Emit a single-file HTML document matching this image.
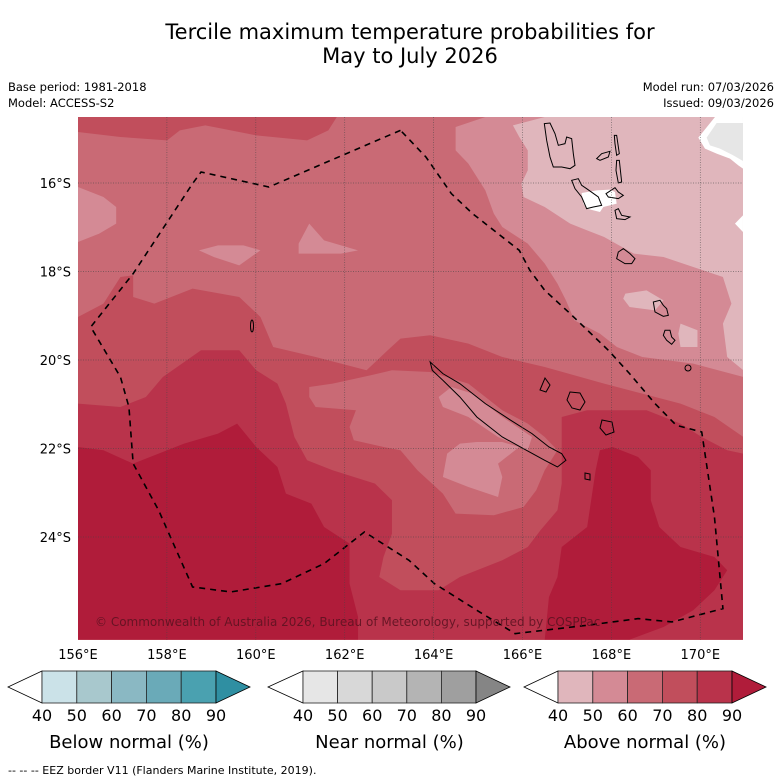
<!DOCTYPE html>
<html><head><meta charset="utf-8"><style>
html,body{margin:0;padding:0;background:#fff;}
svg{display:block;font-family:"DejaVu Sans","Liberation Sans",sans-serif;}
</style></head><body>
<svg id="chart" width="781" height="781" viewBox="0 0 781 781">
<rect x="0" y="0" width="781" height="781" fill="#fff"/>
<text x="410" y="39" font-size="21" text-anchor="middle" fill="#000">Tercile maximum temperature probabilities for</text>
<text x="410" y="63" font-size="21" text-anchor="middle" fill="#000">May to July 2026</text>
<text x="8" y="91" font-size="11.5">Base period: 1981-2018</text>
<text x="8" y="107" font-size="11.5">Model: ACCESS-S2</text>
<text x="774" y="91" font-size="11.5" text-anchor="end">Model run: 07/03/2026</text>
<text x="774" y="107" font-size="11.5" text-anchor="end">Issued: 09/03/2026</text>
<defs><clipPath id="mapclip"><rect x="78" y="117" width="665" height="523"/></clipPath></defs>
<g clip-path="url(#mapclip)">
<rect x="78" y="117" width="665" height="523" fill="#c96a75"/>
<g transform="translate(78,117) scale(0.4243,0.3333)">
<polygon fill="#c14e5c" points="0,0 610,0 590,40 540,70 420,55 300,25 240,40 210,70 100,60 0,45"/>
<polygon fill="#c14e5c" points="0,600 60,560 100,480 130,475 130,540 180,560 270,515 380,540 430,600 460,690 560,720 680,760 730,700 760,665 830,655 920,680 1000,720 1100,750 1240,800 1330,830 1420,860 1500,900 1568,960 1568,1568 0,1568"/>
<polygon fill="#c96a75" points="545,810 600,800 690,775 740,760 830,765 920,800 1000,880 1060,920 1100,960 1130,1000 1100,1060 1080,1120 1050,1170 980,1195 890,1190 860,1130 800,1060 760,1000 720,990 650,970 640,930 655,880 560,870 545,840"/>
<polygon fill="#d48a95" points="850,840 880,810 930,830 1000,900 1070,960 1060,1000 990,960 920,900 860,870"/>
<polygon fill="#d48a95" points="940,975 1000,975 1040,990 990,1040 1000,1080 990,1140 920,1110 860,1080 870,1010 900,980"/>
<polygon fill="#b9334b" points="0,860 100,870 160,840 200,780 290,700 380,700 420,760 470,800 490,860 510,960 540,1030 600,1060 700,1100 740,1150 740,1250 720,1320 710,1380 760,1420 850,1420 900,1380 1000,1330 1060,1290 1090,1240 1130,1180 1140,1100 1140,900 1200,880 1300,880 1340,880 1420,920 1470,960 1530,1000 1568,1010 1568,1568 0,1568"/>
<polygon fill="#b01c3a" points="0,990 60,1000 130,1040 250,980 330,950 375,920 420,990 470,1050 490,1130 550,1160 580,1230 640,1280 640,1400 660,1500 660,1568 0,1568"/>
<polygon fill="#b01c3a" points="1100,1568 1110,1440 1130,1380 1140,1290 1200,1230 1220,1060 1230,1000 1260,990 1320,1020 1350,1060 1350,1150 1370,1230 1420,1290 1500,1320 1530,1360 1500,1420 1450,1480 1380,1530 1300,1568"/>
<polygon fill="#d48a95" points="890,30 960,0 1568,0 1568,780 1450,740 1330,720 1270,690 1230,650 1170,610 1150,550 1130,500 1100,440 1060,380 1000,330 980,290 960,220 920,140 890,100"/>
<polygon fill="#d48a95" points="0,210 60,240 90,270 90,320 50,350 0,375"/>
<polygon fill="#d48a95" points="285,400 330,385 390,385 430,400 380,445 320,420"/>
<polygon fill="#d48a95" points="545,320 580,370 660,400 620,410 520,410 520,380"/>
<polygon fill="#e0b6bc" points="1025,25 1100,0 1568,0 1568,760 1530,720 1520,620 1540,560 1530,520 1520,480 1450,450 1380,420 1310,410 1240,360 1200,340 1160,320 1100,270 1050,240 1045,200 1060,160 1060,100 1040,60"/>
<polygon fill="#e0b6bc" points="1290,530 1340,520 1380,550 1360,580 1300,570 1285,545"/>
<polygon fill="#e0b6bc" points="1420,620 1460,640 1460,690 1420,690 1415,650"/>
<polyline fill="none" stroke="#000" stroke-width="1.6" stroke-dasharray="6,5" vector-effect="non-scaling-stroke" points="760,40 450,210 290,165 270,200 130,470 30,630 100,780 120,870 130,1040 190,1180 270,1410 360,1425 480,1400 580,1340 675,1245 780,1330 840,1400 940,1480 1030,1550 1200,1525 1320,1505 1400,1515 1520,1475 1500,1200 1470,945 1410,925 1360,860 1300,770 1250,700 1160,590 1100,520 1065,460 1040,400 990,350 930,290 880,230 820,120 760,40"/>
<polygon fill="none" stroke="#000" stroke-width="1" vector-effect="non-scaling-stroke" points="830,735 860,770 900,800 960,860 1020,910 1070,950 1110,990 1140,1010 1150,1030 1130,1050 1100,1030 1050,995 1000,960 940,900 900,840 860,790 835,760"/>
</g>
<g transform="translate(500,117) scale(0.3333)" fill="none" stroke="#000" stroke-width="1">
<polygon fill="#fff" stroke="none" points="595,62 645,0 729,0 729,155 715,145 690,125 650,110 615,95"/>
<polygon fill="#e6e6e6" stroke="none" points="620,62 650,18 729,18 729,132 700,115 660,95 630,85"/>
<polygon fill="#fff" stroke="none" points="705,320 729,295 729,345"/>
<polygon fill="#fff" stroke="none" points="245,228 290,220 330,218 345,225 350,260 310,270 300,285 260,275 250,260"/>
<polygon vector-effect="non-scaling-stroke" points="133,20 150,18 165,50 175,85 195,80 200,60 215,65 220,110 225,145 210,155 185,150 160,150 150,120 140,70"/>
<polygon vector-effect="non-scaling-stroke" points="215,190 235,185 245,205 260,215 295,240 305,265 280,270 260,275 245,240 225,215"/>
<polygon vector-effect="non-scaling-stroke" points="343,55 350,55 358,110 350,115 345,80"/>
<polygon vector-effect="non-scaling-stroke" points="350,130 358,130 365,195 355,198 348,160"/>
<polygon vector-effect="non-scaling-stroke" points="290,125 305,110 330,103 325,120 300,130"/>
<polygon vector-effect="non-scaling-stroke" points="318,230 345,212 355,225 370,235 355,245 325,240"/>
<polygon vector-effect="non-scaling-stroke" points="345,280 355,275 365,295 390,300 375,308 350,305"/>
<polygon vector-effect="non-scaling-stroke" points="355,405 370,395 390,410 405,425 395,440 375,440 350,425"/>
<polygon vector-effect="non-scaling-stroke" points="460,555 480,550 490,565 500,575 505,595 490,598 465,585"/>
<polygon vector-effect="non-scaling-stroke" points="495,640 510,640 515,660 525,670 515,682 500,670 490,655"/>
</g>
<g fill="none" stroke="#000" stroke-width="1">
<path d="M545,378 L550,385 L546,392 L540,390 Z"/>
<path d="M570,392 L580,393 L585,402 L580,410 L572,408 L567,400 Z"/>
<path d="M602,420 L612,422 L614,432 L606,435 L600,428 Z"/>
<path d="M585,473 L590,474 L590,480 L585,479 Z"/>
<ellipse cx="252" cy="326" rx="1.5" ry="6"/>
<ellipse cx="688" cy="368" rx="3" ry="3"/>
</g>
<g id="grid"></g>
<text x="95" y="626" font-size="12" fill="#5a1220" opacity="0.85">© Commonwealth of Australia 2026, Bureau of Meteorology, supported by COSPPac</text>
</g>
<g id="axes"></g>
<g id="cbars"></g>
<text x="8" y="774" font-size="11">--  --  -- EEZ border V11 (Flanders Marine Institute, 2019).</text>
</svg>
<script>
const lonTicks = [156, 158, 160, 162, 164, 166, 168, 170];
const latTicks = [16, 18, 20, 22, 24];
const cbLevels = [40, 50, 60, 70, 80, 90];
const cbTitles = ["Below normal (%)", "Near normal (%)", "Above normal (%)"];
const blueColors = ["#cbe2e8", "#a8c8cd", "#8ab8c3", "#6aaab8", "#4aa1b0"];
const blueTop = "#2f8fa2";
const grayColors = ["#e6e6e6", "#d8d8d8", "#c9c9c9", "#b4b4b4", "#9f9f9f"];
const grayTop = "#858585";
const redColors = ["#e0b6bc", "#d48a95", "#c96a75", "#c14e5c", "#b9334b"];
const redTop = "#b01c3a";
const NS = "http://www.w3.org/2000/svg";
function xLon(l){ return 78 + (l - 156) * 44.45; }
function yLat(l){ return 183 + (l - 16) * 44.25; }
function mk(tag, attrs, parent){ const e = document.createElementNS(NS, tag); for (const k in attrs) e.setAttribute(k, attrs[k]); parent.appendChild(e); return e; }
const grid = document.getElementById('grid');
const axes = document.getElementById('axes');
lonTicks.forEach(l => {
  const x = xLon(l);
  if (l > 156) {
    const g = mk('line', {x1:x, x2:x, y1:117, y2:640, stroke:'#444', 'stroke-width':0.7, 'stroke-dasharray':'1,1.5', opacity:0.7}, grid);
    
    
  }
  const t = mk('text', {x:x, y:659, 'font-size':13, 'text-anchor':'middle'}, axes);
  t.textContent = l + '°E';
  
  
});
latTicks.forEach(l => {
  const y = yLat(l);
  const g = mk('line', {x1:78, x2:743, y1:y, y2:y, stroke:'#444', 'stroke-width':0.7, 'stroke-dasharray':'1,1.5', opacity:0.7}, grid);
  
  
  const t = mk('text', {x:71, y:y + 5, 'font-size':13, 'text-anchor':'end'}, axes);
  t.textContent = l + '°S';
  
  
});
const cb = document.getElementById('cbars');
const bars = [
  {tip:8, x0:42, x1:216, end:250, cols:blueColors, top:blueTop},
  {tip:268, x0:303, x1:476, end:510, cols:grayColors, top:grayTop},
  {tip:524, x0:558, x1:732, end:766, cols:redColors, top:redTop}
];
const y0 = 671, y1 = 703, ym = 687;
bars.forEach((b, bi) => {
  const seg = (b.x1 - b.x0) / b.cols.length;
  const lo = mk('polygon', {points:`${b.x0},${y0} ${b.tip},${ym} ${b.x0},${y1}`, fill:'#fff', stroke:'#000', 'stroke-width':0.8}, cb);
  
  
  b.cols.forEach((c, i) => {
    const r = mk('rect', {x:b.x0 + i * seg, y:y0, width:seg, height:y1 - y0, fill:c, stroke:'#222', 'stroke-width':0.8}, cb);
    
    
  });
  const hi = mk('polygon', {points:`${b.x1},${y0} ${b.end},${ym} ${b.x1},${y1}`, fill:b.top, stroke:'#000', 'stroke-width':0.8}, cb);
  
  
  cbLevels.forEach((v, i) => {
    const t = mk('text', {x:b.x0 + i * seg, y:721, 'font-size':16, 'text-anchor':'middle'}, cb);
    t.textContent = v;
    
    
  });
  const tt = mk('text', {x:(b.x0 + b.x1) / 2, y:748, 'font-size':18, 'text-anchor':'middle'}, cb);
  tt.textContent = cbTitles[bi];
  
  
});
</script>
</body></html>
